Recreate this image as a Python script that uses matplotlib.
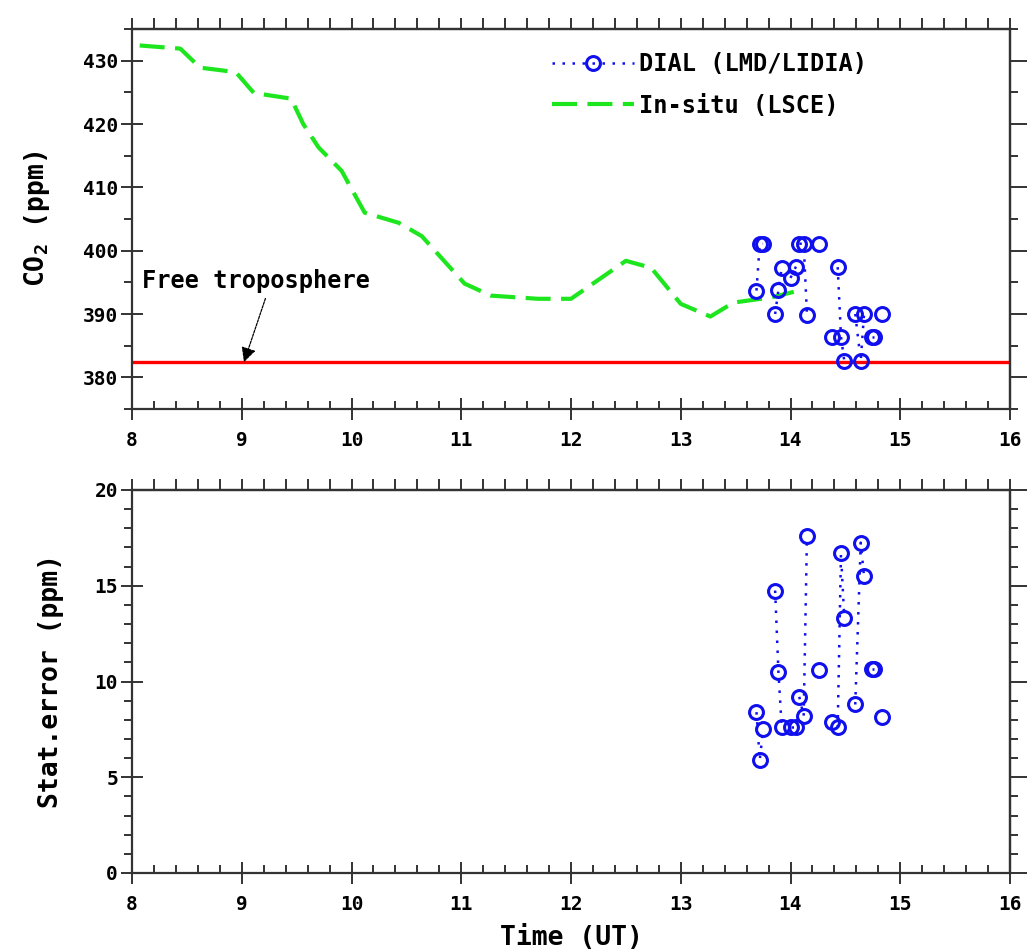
import numpy as np
import matplotlib
matplotlib.use('Agg')
import matplotlib.pyplot as plt
from matplotlib.ticker import MultipleLocator
from matplotlib.lines import Line2D

plt.rcParams['font.family'] = 'DejaVu Sans Mono'
plt.rcParams['font.weight'] = 'bold'
plt.rcParams['mathtext.fontset'] = 'custom'
plt.rcParams['mathtext.rm'] = 'DejaVu Sans Mono:bold'
plt.rcParams['mathtext.it'] = 'DejaVu Sans Mono:bold'
plt.rcParams['mathtext.bf'] = 'DejaVu Sans Mono:bold'

# in-situ CO2 (LSCE)
insitu_time = [8.07, 8.44, 8.62, 8.85, 8.95, 9.11, 9.45, 9.56, 9.70, 9.91, 10.12, 10.43,
               10.64, 11.03, 11.27, 11.70, 12.00, 12.50, 12.73, 13.00, 13.27, 13.48,
               13.73, 13.82, 14.03]
insitu_co2 = [432.4, 431.9, 428.9, 428.4, 428.1, 424.9, 424.0, 420.0, 416.3, 412.6, 406.0,
              404.4, 402.3, 394.8, 392.9, 392.4, 392.4, 398.4, 397.3, 391.6, 389.6, 391.8,
              392.4, 392.6, 393.5]

# DIAL (LMD/LIDIA)
dial_time = [13.69, 13.72, 13.75, 13.86, 13.89, 13.92, 14.00, 14.05, 14.08, 14.12, 14.15,
             14.26, 14.38, 14.43, 14.46, 14.49, 14.59, 14.64, 14.67, 14.74, 14.76, 14.83]
dial_co2 = [393.7, 401.1, 401.1, 390.0, 393.8, 397.3, 395.7, 397.5, 401.1, 401.1, 389.9,
            401.1, 386.4, 397.4, 386.4, 382.6, 390.0, 382.6, 390.0, 386.4, 386.4, 390.0]
dial_err = [8.4, 5.9, 7.5, 14.75, 10.5, 7.6, 7.6, 7.6, 9.2, 8.2, 17.6, 10.6, 7.9, 7.6,
            16.7, 13.3, 8.8, 17.25, 15.5, 10.65, 10.65, 8.15]
# consecutive shots joined by the dotted line
dial_group = [0, 0, 0, 1, 1, 1, 2, 2, 3, 3, 3, 4, 5, 6, 6, 6, 7, 7, 7, 8, 8, 9]

free_tropo = 382.4

blue = '#1010ee'
green = '#1ee61e'
spine_c = '#333333'

fig = plt.figure(figsize=(10.27, 9.52), dpi=100)
ax1 = fig.add_axes([132 / 1027, 1 - 409 / 952, 878 / 1027, 380 / 952])
ax2 = fig.add_axes([132 / 1027, 1 - 873 / 952, 878 / 1027, 383 / 952])

t = np.array(dial_time)
g = np.array(dial_group)


def draw_dial(ax, vals):
    vals = np.array(vals)
    for k in np.unique(g):
        m = g == k
        ax.plot(t[m], vals[m], color=blue, linestyle=(0, (1, 3)), linewidth=1.8,
                marker='o', markersize=10, markerfacecolor='none',
                markeredgecolor=blue, markeredgewidth=2.2, zorder=4)


ax1.plot(insitu_time, insitu_co2, color=green, linestyle=(0, (6, 2.5)), linewidth=3, zorder=3)
ax1.axhline(free_tropo, color='red', linewidth=2.4, zorder=2)
draw_dial(ax1, dial_co2)
ax1.set_ylim(375, 435)
ax1.set_yticks([380, 390, 400, 410, 420, 430])
ax1.yaxis.set_minor_locator(MultipleLocator(5))

ax1.annotate('Free troposphere', xy=(9.02, free_tropo), xytext=(8.09, 395.2),
             fontsize=17, fontweight='bold', va='center', ha='left',
             arrowprops=dict(arrowstyle='-|>', color='black', lw=0.9, linestyle=(0, (2, 1)),
                             shrinkA=2, shrinkB=0, mutation_scale=22,
                             relpos=(0.55, 0.0)))

h_dial = Line2D([], [], color=blue, linestyle=(0, (1, 3)), linewidth=1.8, marker='o',
                markersize=10, markerfacecolor='none', markeredgecolor=blue, markeredgewidth=2.2)
h_insitu = Line2D([], [], color=green, linestyle=(0, (6, 2.5)), linewidth=3)
ax1.legend([h_dial, h_insitu], ['DIAL (LMD/LIDIA)', 'In-situ (LSCE)'], loc='upper left',
           bbox_to_anchor=(0.478, 0.94), frameon=False, fontsize=17, handlelength=3.5,
           handletextpad=0.2, labelspacing=0.75, borderaxespad=0.0, borderpad=0.0)

draw_dial(ax2, dial_err)
ax2.set_ylim(0, 20)
ax2.set_yticks([0, 5, 10, 15, 20])
ax2.yaxis.set_minor_locator(MultipleLocator(1))

for ax in (ax1, ax2):
    ax.set_xlim(8, 16)
    ax.set_xticks(range(8, 17))
    ax.xaxis.set_minor_locator(MultipleLocator(0.2))
    for s in ax.spines.values():
        s.set_color(spine_c)
        s.set_linewidth(1.6)
    ax.tick_params(axis='x', which='major', direction='inout', length=16, width=1.4,
                   color=spine_c, labelsize=14, pad=8)
    ax.tick_params(axis='x', which='minor', direction='in', length=6, width=1.4, color=spine_c)
    ax.tick_params(axis='y', which='major', direction='inout', length=16, width=1.4,
                   color=spine_c, labelsize=14, pad=2)
    ax.tick_params(axis='y', which='minor', direction='out', length=6, width=1.4, color=spine_c)
    sx = ax.secondary_xaxis('top')
    sx.set_xticks(range(8, 17))
    sx.xaxis.set_minor_locator(MultipleLocator(0.2))
    sx.tick_params(which='both', direction='out', length=8, width=1.4, color=spine_c,
                   labeltop=False)
    sx.spines['top'].set_linewidth(1.6)
    sx.spines['top'].set_color(spine_c)
    sy = ax.secondary_yaxis('right')
    sy.set_yticks(ax.get_yticks())
    sy.yaxis.set_minor_locator(ax.yaxis.get_minor_locator())
    sy.tick_params(which='major', direction='out', length=13, width=1.4, color=spine_c,
                   labelright=False)
    sy.tick_params(which='minor', direction='out', length=6, width=1.4, color=spine_c,
                   labelright=False)
    sy.spines['right'].set_linewidth(1.6)
    sy.spines['right'].set_color(spine_c)
    for lab in ax.get_xticklabels() + ax.get_yticklabels():
        lab.set_fontweight('bold')

ax1.set_ylabel('CO$_\\mathregular{2}$ (ppm)', fontsize=19, fontweight='bold', labelpad=22)
ax2.set_ylabel('Stat.error (ppm)', fontsize=19, fontweight='bold', labelpad=22)
ax2.set_xlabel('Time (UT)', fontsize=19, fontweight='bold', labelpad=8)

fig.savefig('out.png', dpi=100)
